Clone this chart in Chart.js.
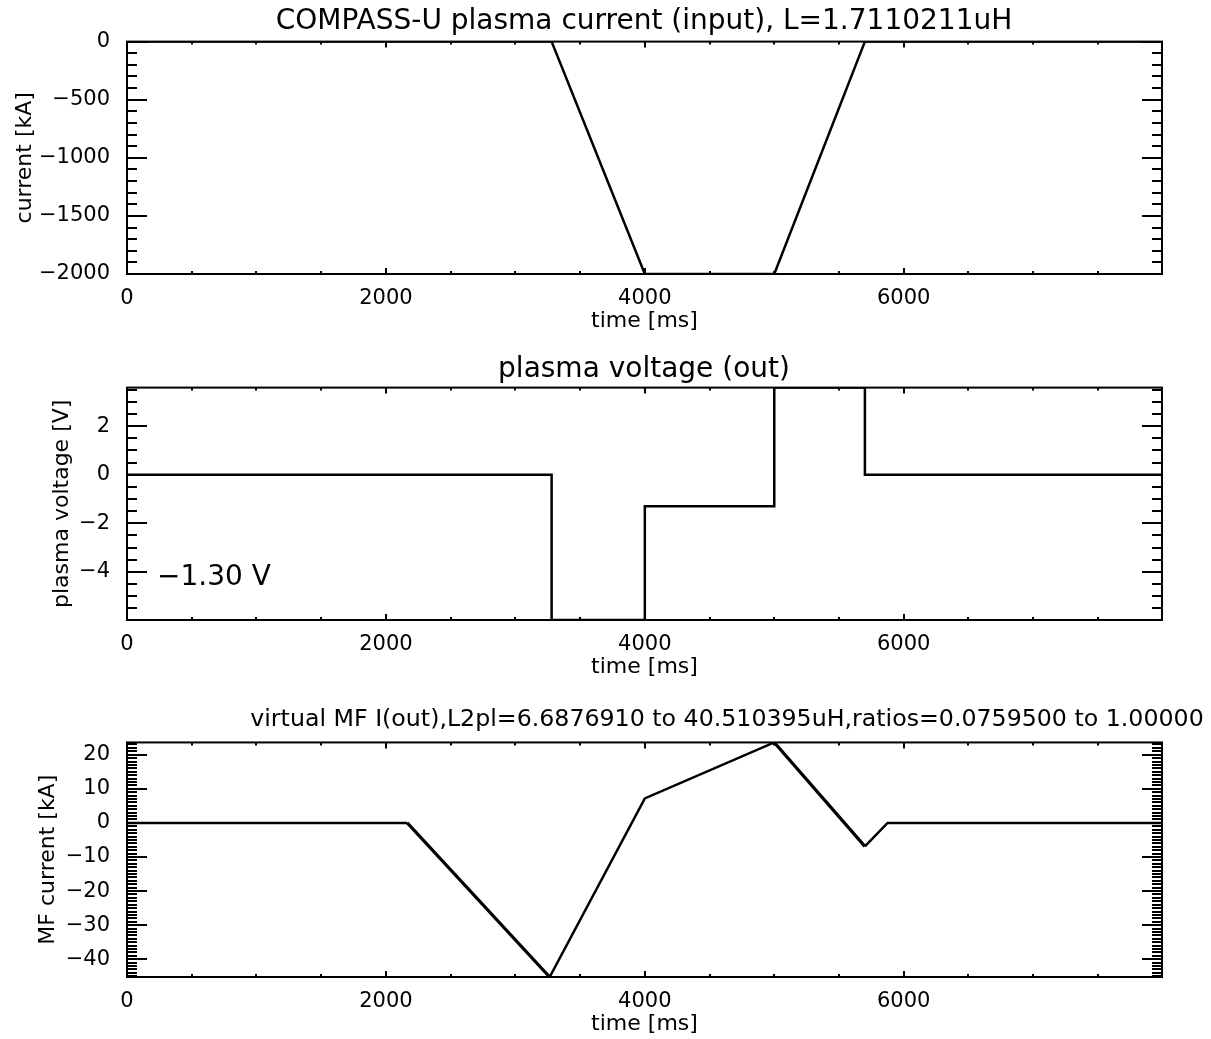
<!DOCTYPE html>
<html>
<head>
<meta charset="utf-8">
<title>COMPASS-U plasma current / voltage / MF current</title>
<script src="https://cdn.jsdelivr.net/npm/chart.js@4.4.1/dist/chart.umd.min.js"></script>
<style>
  html, body { margin: 0; padding: 0; background: #fff; overflow: hidden; }
  #wrap { position: relative; width: 1211px; height: 1039px; overflow: hidden; }
  canvas { position: absolute; left: 0; }
</style>
</head>
<body>
<div id="wrap">
  <canvas id="pcChart" width="1288" height="335" style="top:0px"></canvas>
  <canvas id="pvChart" width="1288" height="340" style="top:340px"></canvas>
  <canvas id="mfChart" width="1454" height="349" style="top:690px"></canvas>
</div>
<script>
// plasma current (input)
const pcTime = [0, 3280, 4000, 5000, 5700, 7995];
const pcCurrent = [0, 0, -2000, -2000, 0, 0];

// plasma voltage (out), steps
const pvTime = [0, 3280, 3280, 4000, 4000, 5000, 5000, 5700, 5700, 7995];
const pvVoltage = [0, 0, -5.98, -5.98, -1.30, -1.30, 3.59, 3.59, 0, 0];

// virtual MF current
const mfTime = [0, 2165, 3265, 4000, 5000, 5700, 5875, 7995];
const mfCurrent = [0, 0, -45.2, 7.2, 23.6, -6.9, 0, 0];

// tick labels
const timeTicks = [0, 2000, 4000, 6000];
const pcTicks = [-2000, -1500, -1000, -500, 0];
const pvTicks = [-4, -2, 0, 2];
const mfTicks = [-40, -30, -20, -10, 0, 10, 20];

const TIME_MAX = 7995;
const FONT = 'DejaVu Sans';

Chart.defaults.font.family = FONT;
Chart.defaults.color = '#000';

// IDL draws its minus signs wide
const fmt = v => String(v).replace('-', '\u2212');

// IDL style box with inward ticks on all four sides
const idlFrame = {
    id: 'idlFrame',
    afterDatasetsDraw(chart, args, opts) {
        const { ctx, chartArea: a, scales: { x, y } } = chart;
        ctx.save();
        ctx.strokeStyle = '#000';

        const steps = (min, max, step) => {
            const out = [];
            for (let k = Math.ceil(min / step - 1e-9); k * step <= max + 1e-9; k++) out.push(k * step);
            return out;
        };
        const isMajor = (v, major) => Math.abs(v / major - Math.round(v / major)) < 1e-6;

        ctx.lineWidth = 2;
        ctx.beginPath();
        steps(x.min, x.max, opts.xMinor).forEach(v => {
            const px = Math.round(x.getPixelForValue(v));
            const len = isMajor(v, opts.xMajor) ? 6 : 3;
            ctx.moveTo(px, a.bottom); ctx.lineTo(px, a.bottom - len);
            ctx.moveTo(px, a.top); ctx.lineTo(px, a.top + len);
        });
        ctx.stroke();

        ctx.beginPath();
        steps(y.min, y.max, opts.yMinor).forEach(v => {
            const py = Math.round(y.getPixelForValue(v));
            const len = isMajor(v, opts.yMajor) ? 20 : 10;
            ctx.moveTo(a.left, py); ctx.lineTo(a.left + len, py);
            ctx.moveTo(a.right, py); ctx.lineTo(a.right - len, py);
        });
        ctx.stroke();

        ctx.lineWidth = 2;
        ctx.strokeRect(a.left, a.top, a.right - a.left, a.bottom - a.top);

        if (opts.note) {
            ctx.fillStyle = '#000';
            ctx.font = `28px "${FONT}"`;
            ctx.textAlign = 'left';
            ctx.textBaseline = 'middle';
            ctx.fillText(opts.note.text, a.left + opts.note.dx, a.bottom + opts.note.dy);
        }
        ctx.restore();
    }
};

function makePanel(id, p) {
    const data = p.times.map((t, i) => ({ x: t, y: p.values[i] }));
    const canvas = document.getElementById(id);
    return new Chart(canvas, {
        type: 'line',
        data: {
            datasets: [{
                data,
                borderColor: '#000',
                borderWidth: 2.5,
                pointRadius: 0,
                tension: 0,
                fill: false,
                clip: 0,
                segment: p.segment || {}
            }]
        },
        options: {
            responsive: false,
            animation: false,
            devicePixelRatio: 1,
            layout: { padding: 0 },
            plugins: {
                legend: { display: false },
                tooltip: { enabled: false },
                title: {
                    display: true,
                    text: p.title,
                    color: '#000',
                    font: { size: p.titleSize, weight: 'normal' },
                    padding: p.titlePad
                },
                idlFrame: p.frame
            },
            scales: {
                x: {
                    type: 'linear',
                    min: 0,
                    max: TIME_MAX,
                    grid: { display: false },
                    border: { display: false },
                    afterBuildTicks: s => { s.ticks = timeTicks.map(v => ({ value: v })); },
                    afterFit: s => { s.height = p.xHeight; },
                    ticks: { font: { size: 21 }, padding: 4, callback: fmt, maxRotation: 0 },
                    title: {
                        display: true,
                        text: 'time [ms]',
                        font: { size: 22 },
                        padding: { top: 0, bottom: p.xTitlePad }
                    }
                },
                y: {
                    type: 'linear',
                    position: 'left',
                    min: p.yMin,
                    max: p.yMax,
                    grid: { display: false },
                    border: { display: false },
                    afterBuildTicks: s => { s.ticks = p.yTicks.map(v => ({ value: v })); },
                    afterFit: s => { s.width = 127; },
                    ticks: { font: { size: 21 }, padding: 9, callback: fmt },
                    title: {
                        display: true,
                        text: p.yTitle,
                        font: { size: 22 },
                        padding: { top: p.yTitlePad, bottom: 0 }
                    }
                },
                yRight: {
                    type: 'linear',
                    position: 'right',
                    display: true,
                    grid: { display: false },
                    border: { display: false },
                    ticks: { display: false },
                    afterFit: s => { s.width = canvas.width - 1162; }
                }
            }
        },
        plugins: [idlFrame]
    });
}

makePanel('pcChart', {
    times: pcTime, values: pcCurrent,
    title: 'COMPASS-U plasma current (input), L=1.7110211uH',
    titleSize: 28, titlePad: { top: 5, bottom: 3 },
    yTitle: 'current [kA]', yTitlePad: 12,
    yMin: -2000, yMax: 0, yTicks: pcTicks,
    xHeight: 61, xTitlePad: 1,
    frame: { xMinor: 500, xMajor: 2000, yMinor: 100, yMajor: 500 }
});

makePanel('pvChart', {
    times: pvTime, values: pvVoltage,
    title: 'plasma voltage (out)',
    titleSize: 28, titlePad: { top: 13, bottom: 1 },
    yTitle: 'plasma voltage [V]', yTitlePad: 49,
    yMin: -5.98, yMax: 3.59, yTicks: pvTicks,
    xHeight: 60, xTitlePad: 0,
    frame: {
        xMinor: 500, xMajor: 2000, yMinor: 0.5, yMajor: 2,
        note: { text: fmt(pvVoltage[4].toFixed(2)) + ' V', dx: 30, dy: -42 }
    }
});

makePanel('mfChart', {
    times: mfTime, values: mfCurrent,
    title: 'virtual MF I(out),L2pl=6.6876910 to 40.510395uH,ratios=0.0759500 to 1.00000',
    titleSize: 23.7, titlePad: { top: 16, bottom: 8 },
    yTitle: 'MF current [kA]', yTitlePad: 35,
    yMin: -45.2, yMax: 23.6, yTicks: mfTicks,
    xHeight: 62, xTitlePad: 2,
    segment: { borderWidth: c => (c.p1.parsed.y < c.p0.parsed.y ? 3.2 : 2.5) },
    frame: { xMinor: 500, xMajor: 2000, yMinor: 1, yMajor: 10 }
});
</script>
</body>
</html>
